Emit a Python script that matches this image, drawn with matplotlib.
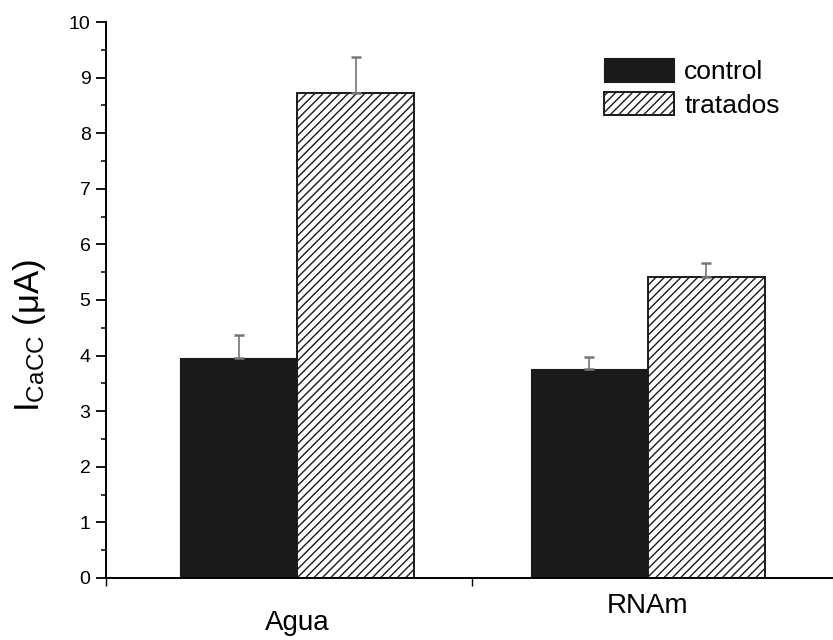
import numpy as np
import matplotlib
matplotlib.use("Agg")
import matplotlib.pyplot as plt

groups = ["Agua", "RNAm"]
control = [3.95, 3.75]
control_err = [0.42, 0.22]
tratados = [8.72, 5.42]
tratados_err = [0.65, 0.25]

plt.rcParams["font.family"] = ["Liberation Sans", "DejaVu Sans"]
plt.rcParams["mathtext.fontset"] = "custom"
plt.rcParams["mathtext.rm"] = "Liberation Sans"
plt.rcParams["hatch.linewidth"] = 1.0

fig = plt.figure(figsize=(8.33, 6.4), dpi=100)
ax = fig.add_axes([0.127, 0.0969, 0.873, 0.8687])

x = np.arange(len(groups))
w = 0.334

ax.bar(x - w / 2, control, w, color="#1a1a1a", edgecolor="#1a1a1a",
       linewidth=0.8, label="control")
ax.bar(x + w / 2, tratados, w, color="white", edgecolor="#1a1a1a",
       hatch="////", linewidth=1.4, label="tratados")

# only upper error bars: grey stem, black cap
for pos, vals, errs in [(x - w / 2, control, control_err),
                        (x + w / 2, tratados, tratados_err)]:
    eb = ax.errorbar(pos, vals, yerr=[np.zeros(len(x)), errs], fmt="none",
                     ecolor="#777777", elinewidth=1.2, capsize=3.6, capthick=1.8)
    for cap in eb[1]:
        cap.set_color("#1a1a1a")

ax.set_xlim(-0.546, 1.529)
ax.set_ylim(0, 10)

ax.spines["top"].set_visible(False)
ax.spines["right"].set_visible(False)
ax.spines["left"].set_linewidth(1.4)
ax.spines["bottom"].set_linewidth(1.4)

ax.set_yticks(np.arange(0, 11, 1))
ax.set_yticks(np.arange(0.5, 10, 1), minor=True)
ax.tick_params(axis="y", which="major", length=7, width=1.3, labelsize=14, pad=4)
ax.tick_params(axis="y", which="minor", length=3.6, width=1.1)

ax.set_xticks([-0.546, 0.5])
ax.set_xticklabels([])
ax.tick_params(axis="x", which="major", length=6, width=1.0, direction="out")

# group labels (Agua sits a bit lower in the original)
label_y = [-0.081, -0.05]
for xi, name, ly in zip(x, groups, label_y):
    ax.text(xi, ly, name, transform=ax.get_xaxis_transform(),
            ha="center", va="center", fontsize=20)

fig.text(30 / 833, 1 - 335 / 640, r"$\mathregular{I_{CaCC}}$ (μA)",
         rotation=90, ha="center", va="center", fontsize=25)

ax.legend(loc="upper left", bbox_to_anchor=(0.652, 0.978), frameon=False,
          fontsize=19, handlelength=2.65, handleheight=1.0,
          handletextpad=0.4, labelspacing=0.3)

fig.savefig("out.png", dpi=100)
